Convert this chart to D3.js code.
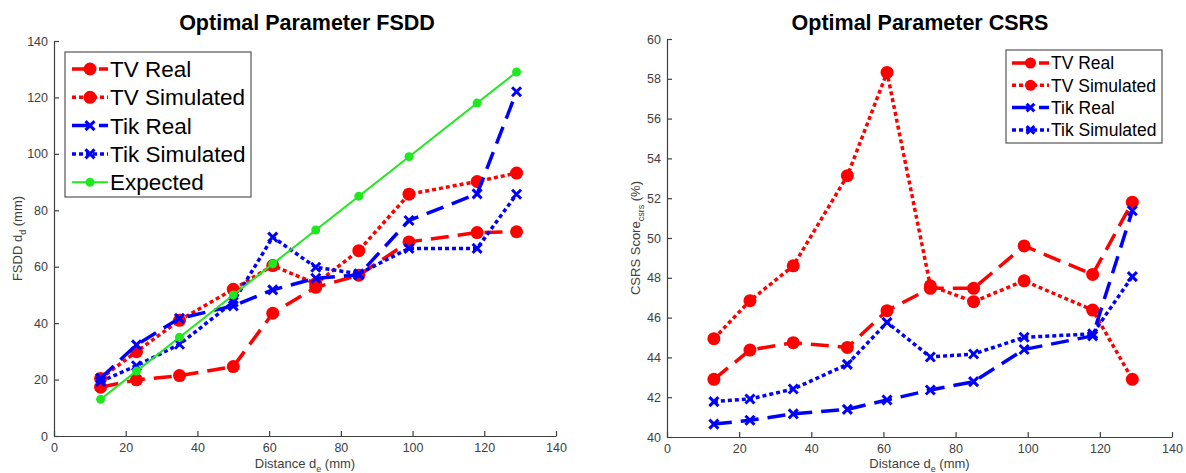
<!DOCTYPE html>
<html><head><meta charset="utf-8">
<script src="https://cdn.jsdelivr.net/npm/d3@7"></script>
<style>
body{margin:0;background:#fff;}
svg{font-family:"Liberation Sans",Arial,Helvetica,sans-serif;}
</style></head>
<body><svg id="c" width="1186" height="473"></svg>
<script>
// ---- data ----
const distances = [13, 23, 35, 50, 61, 73, 85, 99, 118, 129];
const fsddTVReal   = [17.3, 19.9, 21.4, 24.6, 43.5, 52.7, 57.0, 68.8, 72.1, 72.4];
const fsddTVSim    = [20.4, 29.9, 41.0, 52.0, 60.4, 54.0, 65.7, 85.7, 90.2, 93.2];
const fsddTikReal  = [20.5, 32.3, 41.7, 46.1, 51.8, 55.9, 57.1, 76.4, 85.8, 122.0];
const fsddTikSim   = [19.3, 24.9, 32.5, 47.5, 70.5, 59.8, 57.5, 66.5, 66.5, 85.7];
const fsddExpected = [13, 23, 35, 50, 61, 73, 85, 99, 118, 129];
const csrsTVReal   = [42.9, 44.37, 44.74, 44.5, 46.35, 47.47, 47.47, 49.6, 48.17, 51.8];
const csrsTVSim    = [44.94, 46.85, 48.6, 53.13, 58.32, 47.6, 46.8, 47.85, 46.38, 42.9];
const csrsTikReal  = [40.65, 40.84, 41.16, 41.39, 41.86, 42.36, 42.78, 44.4, 45.08, 51.37];
const csrsTikSim   = [41.78, 41.91, 42.41, 43.65, 45.76, 44.02, 44.17, 45.01, 45.18, 48.06];
const xTicks = [0, 20, 40, 60, 80, 100, 120, 140];
const fsddTicks = [0, 20, 40, 60, 80, 100, 120, 140];
const csrsTicks = [40, 42, 44, 46, 48, 50, 52, 54, 56, 58, 60];
const legendFSDD = ["TV Real", "TV Simulated", "Tik Real", "Tik Simulated", "Expected"];
const legendCSRS = ["TV Real", "TV Simulated", "Tik Real", "Tik Simulated"];

// ---- styles ----
const RED = "#ff0000", BLUE = "#0000ff", GREEN = "#1ee81e";
const styles = {
  "TV Real":       {color: RED,  dash: "18,9", width: 3.5, marker: "circle"},
  "TV Simulated":  {color: RED,  dash: "4,3",  width: 3.5, marker: "circle"},
  "Tik Real":      {color: BLUE, dash: "18,9", width: 3.5, marker: "x"},
  "Tik Simulated": {color: BLUE, dash: "4,3",  width: 3.5, marker: "x"},
  "Expected":      {color: GREEN, dash: null,  width: 2,   marker: "dot"}
};

const svg = d3.select("#c");
const AX = "#404040";

function drawMarker(g, kind, x, y, color, scale) {
  scale = scale || 1;
  if (kind === "circle") {
    g.append("circle").attr("cx", x).attr("cy", y).attr("r", 6.5 * scale).attr("fill", color);
  } else if (kind === "dot") {
    g.append("circle").attr("cx", x).attr("cy", y).attr("r", 4.5 * scale).attr("fill", color);
  } else {
    const s = 4.5 * scale;
    g.append("path").attr("d", `M${x - s},${y - s}L${x + s},${y + s}M${x - s},${y + s}L${x + s},${y - s}`)
      .attr("stroke", color).attr("stroke-width", 3).attr("fill", "none");
  }
}

function panel(opts) {
  const x = d3.scaleLinear().domain([0, 140]).range(opts.xr);
  const y = d3.scaleLinear().domain(opts.yd).range(opts.yr);
  const g = svg.append("g");
  // axes
  const xa = g.append("g").attr("transform", `translate(0,${opts.yr[0]})`)
    .call(d3.axisBottom(x).tickValues(xTicks).tickSizeInner(-5).tickSizeOuter(0).tickPadding(7));
  const ya = g.append("g").attr("transform", `translate(${opts.xr[0]},0)`)
    .call(d3.axisLeft(y).tickValues(opts.yTicks).tickSizeInner(-5).tickSizeOuter(0).tickPadding(6));
  [xa, ya].forEach(a => {
    a.selectAll("path,line").attr("stroke", AX).attr("stroke-width", 1.2);
    a.selectAll("text").attr("fill", AX).attr("font-size", 12.5).attr("font-family", "Liberation Sans, Arial, sans-serif");
  });
  // lines
  opts.series.forEach(s => {
    const st = styles[s.name];
    const line = d3.line().x((d, i) => x(distances[i])).y(d => y(d));
    g.append("path").datum(s.values).attr("d", line).attr("fill", "none")
      .attr("stroke", st.color).attr("stroke-width", st.width)
      .attr("stroke-dasharray", st.dash).attr("stroke-linejoin", "round");
    s.values.forEach((v, i) => drawMarker(g, st.marker, x(distances[i]), y(v), st.color));
  });
  // title
  g.append("text").attr("x", opts.titleX).attr("y", 30).attr("text-anchor", "middle")
    .attr("font-size", 21.5).attr("font-weight", "bold").attr("fill", "#000").text(opts.title);
  // x label
  const xl = g.append("text").attr("x", (opts.xr[0] + opts.xr[1]) / 2).attr("y", 468)
    .attr("text-anchor", "middle").attr("font-size", 13).attr("fill", AX);
  xl.append("tspan").text("Distance d");
  xl.append("tspan").attr("font-size", 9).attr("dy", 4).text("e");
  xl.append("tspan").attr("dy", -4).text(" (mm)");
  // y label
  const yc = (opts.yr[0] + opts.yr[1]) / 2;
  const yl = g.append("text").attr("transform", `translate(${opts.ylX},${yc}) rotate(-90)`)
    .attr("text-anchor", "middle").attr("font-size", 13).attr("fill", AX);
  opts.ylabel(yl);
  // legend
  const L = opts.legend;
  g.append("rect").attr("x", L.x).attr("y", L.y).attr("width", L.w).attr("height", L.h)
    .attr("fill", "#fff").attr("stroke", "#555").attr("stroke-width", 1.2);
  L.names.forEach((n, i) => {
    const st = styles[n];
    const cy = L.row0 + i * L.step;
    g.append("line").attr("x1", L.lx0).attr("x2", L.lx1).attr("y1", cy).attr("y2", cy)
      .attr("stroke", st.color).attr("stroke-width", st.width).attr("stroke-dasharray", st.dash);
    drawMarker(g, st.marker, (L.lx0 + L.lx1) / 2, cy, st.color, L.ms);
    g.append("text").attr("x", L.tx).attr("y", cy).attr("dy", "0.36em")
      .attr("font-size", L.fs).attr("fill", "#000").text(n);
  });
}

panel({
  xr: [54, 556], yd: [0, 140], yr: [436, 41], yTicks: fsddTicks,
  title: "Optimal Parameter FSDD", titleX: 307,
  ylX: 22,
  ylabel: t => { t.append("tspan").text("FSDD d"); t.append("tspan").attr("font-size", 9).attr("dy", 4).text("d"); t.append("tspan").attr("dy", -4).text(" (mm)"); },
  series: [
    {name: "TV Real", values: fsddTVReal},
    {name: "TV Simulated", values: fsddTVSim},
    {name: "Tik Real", values: fsddTikReal},
    {name: "Tik Simulated", values: fsddTikSim},
    {name: "Expected", values: fsddExpected}
  ],
  legend: {x: 65, y: 52, w: 186, h: 145, names: legendFSDD, row0: 69, step: 28.3,
           lx0: 72, lx1: 108, tx: 110, fs: 22.5, ms: 1}
});

panel({
  xr: [667, 1172], yd: [40, 60], yr: [437, 39], yTicks: csrsTicks,
  title: "Optimal Parameter CSRS", titleX: 920,
  ylX: 640,
  ylabel: t => { t.append("tspan").text("CSRS Score"); t.append("tspan").attr("font-size", 9).attr("dy", 4).text("csrs"); t.append("tspan").attr("dy", -4).text(" (%)"); },
  series: [
    {name: "TV Real", values: csrsTVReal},
    {name: "TV Simulated", values: csrsTVSim},
    {name: "Tik Real", values: csrsTikReal},
    {name: "Tik Simulated", values: csrsTikSim}
  ],
  legend: {x: 1006, y: 50, w: 156, h: 93, names: legendCSRS, row0: 63, step: 22.3,
           lx0: 1012, lx1: 1049, tx: 1051, fs: 17.5, ms: 0.85}
});
</script>
</body></html>
